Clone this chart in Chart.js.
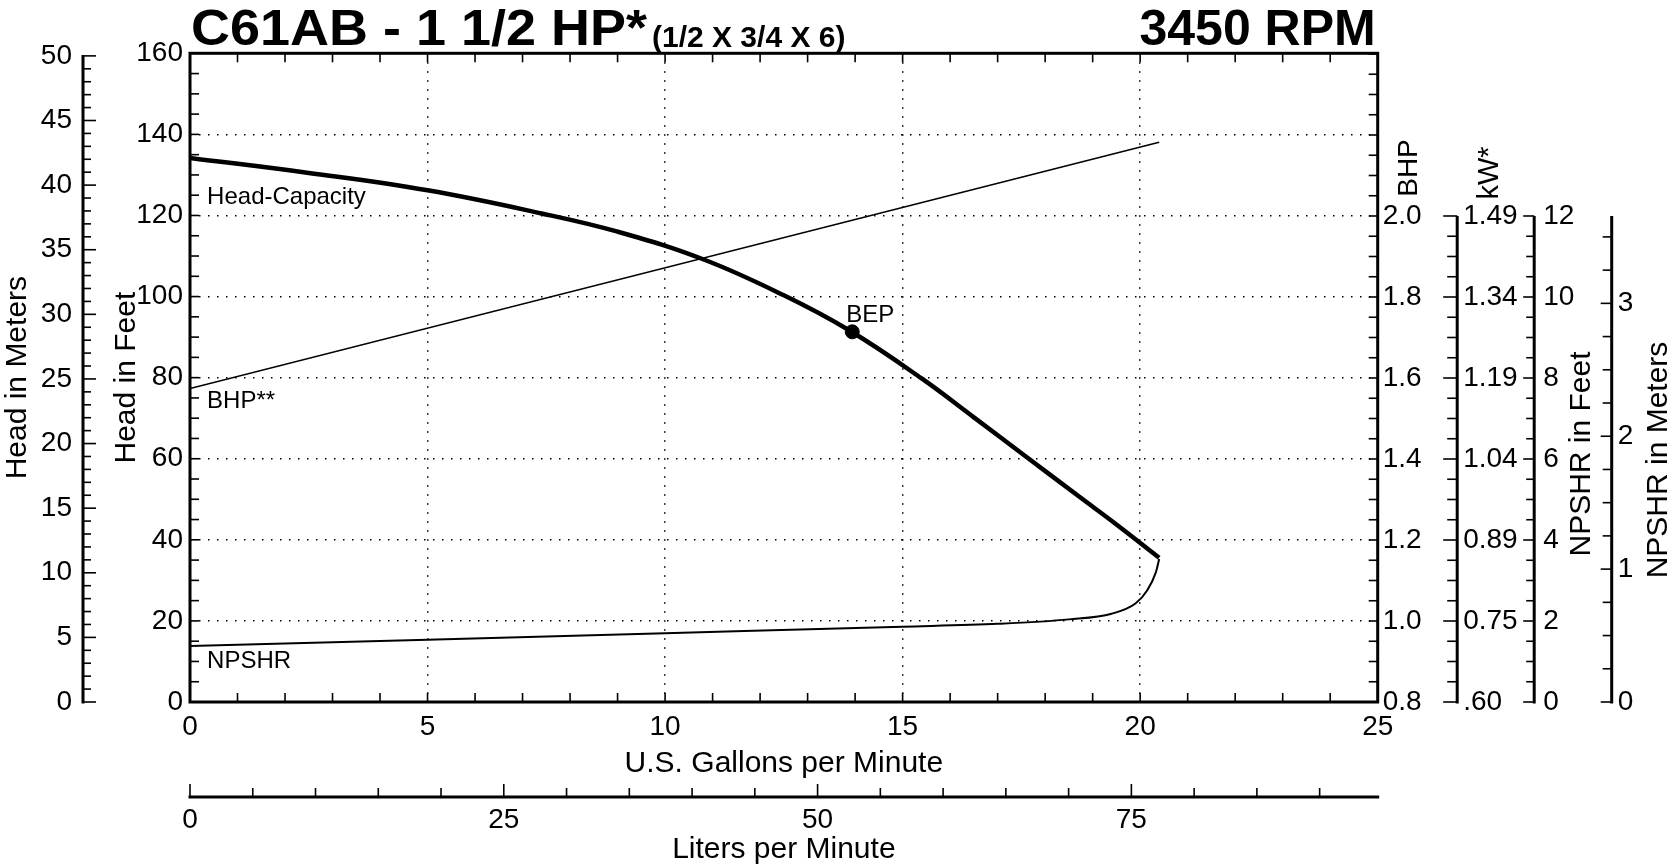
<!DOCTYPE html>
<html>
<head>
<meta charset="utf-8">
<title>C61AB - 1 1/2 HP pump curve</title>
<script src="https://cdn.jsdelivr.net/npm/chart.js@4.4.1/dist/chart.umd.min.js"></script>
<style>
  html, body { margin: 0; padding: 0; background: #fff; }
  #wrap { width: 1674px; height: 867px; position: relative; }
</style>
</head>
<body>
<div id="wrap"><canvas id="pumpCurve"></canvas></div>
<script>
// head-capacity curve (US GPM vs head in feet)
const headGpm = [0, 2.5, 5, 7.4, 9, 10.8, 12.5, 13.9, 15.4, 16.5, 17.6, 18.7, 19.5, 20.4];
const headFt  = [134.2, 130.5, 126.2, 120.5, 116, 109.2, 100.3, 91.5, 79.8, 70.2, 60.5, 50.8, 43.8, 35.6];

// brake horsepower (on the BHP axis)
const bhpGpm = [0, 20.4];
const bhpValues = [1.574, 2.182];

// NPSHR (on the NPSHR in Feet axis)
const npshrGpm = [0, 5, 10, 15, 17, 18.5, 19.4, 19.9, 20.15, 20.33, 20.4];
const npshrFt  = [1.38, 1.54, 1.70, 1.86, 1.93, 2.04, 2.18, 2.43, 2.76, 3.2, 3.53];

// best efficiency point
const bepGpm = [13.94];
const bepFt = [91.3];

// tick labels
const gpmTicks = [0, 5, 10, 15, 20, 25];
const litersTicks = [0, 25, 50, 75];
const feetTicks = [0, 20, 40, 60, 80, 100, 120, 140, 160];
const meterTicks = [0, 5, 10, 15, 20, 25, 30, 35, 40, 45, 50];
const bhpTicks = [0.8, 1.0, 1.2, 1.4, 1.6, 1.8, 2.0];
const kwTickLabels = ['.60', '0.75', '0.89', '1.04', '1.19', '1.34', '1.49'];
const npshrFtTicks = [0, 2, 4, 6, 8, 10, 12];
const npshrMTicks = [0, 1, 2, 3];

const FONT = "'Liberation Sans', Arial, Helvetica, sans-serif";
Chart.defaults.font.family = FONT;
Chart.defaults.color = '#000';

const tickFont = { family: FONT, size: 28 };
const titleFont = { family: FONT, size: 30, lineHeight: 1 };

// axis ranges (the right hand axes only use the lower part of the plot height)
const bhpMax = 2.4017;
const npshrFtMax = 16.017;
const FT_PER_M = 3.281;
const L_PER_GAL = 3.785;

function fixedTicks(list) {
    return scale => { scale.ticks = list.map(v => ({ value: v })); };
}
function fixWidth(w) {
    return scale => { scale.width = w; };
}
function fixHeight(h) {
    return scale => { scale.height = h; };
}
// dotted grid everywhere except on the frame
function gridColour(lo, hi) {
    return ctx => (ctx.tick && (ctx.tick.value === lo || ctx.tick.value === hi)) ? 'rgba(0,0,0,0)' : '#000';
}

const pts = (xs, ys) => xs.map((x, i) => ({ x: x, y: ys[i] }));

// ------------------------------------------ //
// Frame, inward ticks, partial axes, texts   //
// ------------------------------------------ //
const pumpAxesPlugin = {
    id: 'pumpAxes',
    afterDraw(chart) {
        const { ctx, chartArea: a, scales: s } = chart;
        const seg = (x1, y1, x2, y2) => {
            ctx.beginPath();
            ctx.moveTo(x1, y1);
            ctx.lineTo(x2, y2);
            ctx.stroke();
        };
        ctx.save();
        ctx.strokeStyle = '#000';
        ctx.fillStyle = '#000';

        // plot frame
        ctx.lineWidth = 3;
        ctx.strokeRect(a.left, a.top, a.right - a.left, a.bottom - a.top);

        // inward ticks on the frame
        ctx.lineWidth = 1.6;
        for (let g = 1; g < 25; g++) {
            const x = s.x.getPixelForValue(g);
            seg(x, a.bottom, x, a.bottom - 9);
            seg(x, a.top, x, a.top + 9);
        }
        for (let f = 5; f < 160; f += 5) {
            const y = s.y.getPixelForValue(f);
            seg(a.left, y, a.left + 9, y);
        }
        for (let k = 1; 0.8 + k * 0.05 < bhpMax; k++) {
            const y = s.bhp.getPixelForValue(0.8 + k * 0.05);
            seg(a.right, y, a.right - 9, y);
        }

        // head in meters axis
        const xm = s.yM.right;
        ctx.lineWidth = 3;
        seg(xm, s.yM.getPixelForValue(0) + 1.5, xm, s.yM.getPixelForValue(50) - 1);
        ctx.lineWidth = 1.6;
        for (let m = 0; m <= 50; m++) {
            const y = s.yM.getPixelForValue(m);
            seg(xm, y, xm + (m % 5 === 0 ? 13 : 8), y);
        }

        // kW axis (same positions as BHP from 0.8 to 2.0)
        const xk = s.kw.left;
        const yTop = s.bhp.getPixelForValue(2.0);
        ctx.lineWidth = 3;
        seg(xk, a.bottom + 1.5, xk, yTop);
        ctx.lineWidth = 1.6;
        for (let k = 0; k <= 24; k++) {
            const y = s.kw.getPixelForValue(0.8 + k * 0.05);
            seg(xk - (k % 4 === 0 ? 14 : 10), y, xk, y);
        }

        // NPSHR in feet axis
        const xf = s.npFt.left;
        ctx.lineWidth = 3;
        seg(xf, a.bottom + 1.5, xf, s.npFt.getPixelForValue(12));
        ctx.lineWidth = 1.6;
        for (let k = 0; k <= 24; k++) {
            const y = s.npFt.getPixelForValue(k * 0.5);
            seg(xf - (k % 4 === 0 ? 11 : 8), y, xf, y);
        }

        // NPSHR in meters axis
        const xn = s.npM.left;
        const nTop = s.npFt.getPixelForValue(12);
        ctx.lineWidth = 3;
        seg(xn, a.bottom + 1.5, xn, nTop);
        ctx.lineWidth = 1.6;
        for (let k = 0; s.npM.getPixelForValue(k * 0.25) >= nTop; k++) {
            const y = s.npM.getPixelForValue(k * 0.25);
            seg(xn - (k % 4 === 0 ? 11 : 9), y, xn, y);
        }

        // liters per minute axis
        const yl = s.xL.top;
        ctx.lineWidth = 3;
        seg(s.xL.getPixelForValue(0) - 1.5, yl, a.right + 1.5, yl);
        ctx.lineWidth = 1.6;
        for (let k = 0; k * 5 < 25 * L_PER_GAL; k++) {
            const x = s.xL.getPixelForValue(k * 5);
            seg(x, yl, x, yl - (k % 5 === 0 ? 13 : 9));
        }

        // rotated titles of the right axes
        const vText = (text, size, x, y) => {
            ctx.save();
            ctx.font = size + 'px ' + FONT;
            ctx.textAlign = 'center';
            ctx.textBaseline = 'alphabetic';
            ctx.translate(x, y);
            ctx.rotate(-Math.PI / 2);
            ctx.fillText(text, 0, 0);
            ctx.restore();
        };
        vText('BHP', 28, s.bhp.left + 39, yTop - 48);
        vText('kW*', 29, s.kw.left + 41, yTop - 43);
        const npMid = (s.npFt.getPixelForValue(0) + s.npFt.getPixelForValue(12)) / 2;
        vText('NPSHR in Feet', 30, s.npFt.left + 56, npMid - 5);
        vText('NPSHR in Meters', 30, s.npM.left + 55, npMid + 1);

        // curve labels
        ctx.font = '24px ' + FONT;
        ctx.textAlign = 'left';
        ctx.textBaseline = 'alphabetic';
        ctx.fillText('Head-Capacity', s.x.getPixelForValue(0.36), s.y.getPixelForValue(122.8));
        ctx.fillText('BHP**', s.x.getPixelForValue(0.36), s.y.getPixelForValue(72.5));
        ctx.fillText('NPSHR', s.x.getPixelForValue(0.36), s.y.getPixelForValue(8.3));
        ctx.fillText('BEP', s.x.getPixelForValue(bepGpm[0]) - 6, s.y.getPixelForValue(bepFt[0]) - 10);

        // chart title
        const mainTitle = 'C61AB - 1 1/2 HP*';
        ctx.font = 'bold 50px ' + FONT;
        const natural = ctx.measureText(mainTitle).width;
        ctx.save();
        ctx.translate(a.left + 1, 45);
        ctx.scale(456 / natural, 1);
        ctx.fillText(mainTitle, 0, 0);
        ctx.restore();
        ctx.font = 'bold 30px ' + FONT;
        ctx.fillText('(1/2 X 3/4 X 6)', a.left + 462, 47);
        ctx.font = 'bold 50px ' + FONT;
        ctx.textAlign = 'right';
        ctx.fillText('3450 RPM', a.right - 2, 45);

        ctx.restore();
    }
};

// ------------ //
// Create chart //
// ------------ //
const chart = new Chart(document.getElementById('pumpCurve').getContext('2d'), {
    type: 'scatter',
    data: {
        datasets: [{
            label: 'Head-Capacity',
            data: pts(headGpm, headFt),
            yAxisID: 'y',
            showLine: true,
            borderColor: '#000',
            borderWidth: 4.5,
            pointRadius: 0,
            tension: 0.4
        }, {
            label: 'BHP**',
            data: pts(bhpGpm, bhpValues),
            yAxisID: 'bhp',
            showLine: true,
            borderColor: '#000',
            borderWidth: 1.6,
            pointRadius: 0
        }, {
            label: 'NPSHR',
            data: pts(npshrGpm, npshrFt),
            yAxisID: 'npFt',
            showLine: true,
            borderColor: '#000',
            borderWidth: 2,
            pointRadius: 0,
            cubicInterpolationMode: 'monotone'
        }, {
            label: 'BEP',
            data: pts(bepGpm, bepFt),
            yAxisID: 'y',
            pointRadius: 7,
            pointBackgroundColor: '#000',
            pointBorderColor: '#000',
            clip: false
        }]
    },
    options: {
        responsive: true,
        maintainAspectRatio: false,
        animation: false,
        events: [],
        layout: { padding: { top: 53.3, left: 0, right: 0, bottom: 0 } },
        plugins: {
            legend: { display: false },
            tooltip: { enabled: false }
        },
        scales: {
            x: {
                type: 'linear', position: 'bottom', weight: 0,
                min: 0, max: 25,
                afterBuildTicks: fixedTicks(gpmTicks),
                afterFit: fixHeight(95),
                ticks: { font: tickFont, padding: 8, autoSkip: false, maxRotation: 0 },
                grid: { color: gridColour(0, 25), lineWidth: 1.5, drawTicks: false },
                border: { display: false, dash: [1.5, 7.5] },
                title: { display: true, text: 'U.S. Gallons per Minute', font: titleFont, padding: { top: 0, bottom: 18 } }
            },
            xL: {
                type: 'linear', position: 'bottom', weight: 1,
                min: 0, max: 25 * L_PER_GAL,
                afterBuildTicks: fixedTicks(litersTicks),
                afterFit: fixHeight(70),
                ticks: { font: tickFont, padding: 6, autoSkip: false, maxRotation: 0 },
                grid: { display: false, drawTicks: false },
                border: { display: false },
                title: { display: true, text: 'Liters per Minute', font: titleFont, padding: { top: 0, bottom: 2 } }
            },
            y: {
                type: 'linear', position: 'left', weight: 0,
                min: 0, max: 160,
                afterBuildTicks: fixedTicks(feetTicks),
                afterFit: fixWidth(107),
                ticks: { font: tickFont, padding: 7, autoSkip: false },
                grid: { color: gridColour(0, 160), lineWidth: 1.5, drawTicks: false },
                border: { display: false, dash: [1.5, 7.5] },
                title: { display: true, text: 'Head in Feet', font: titleFont, padding: { top: 28.5, bottom: 0 } }
            },
            yM: {
                type: 'linear', position: 'left', weight: 1,
                min: 0, max: 50.2,
                afterBuildTicks: fixedTicks(meterTicks),
                afterFit: fixWidth(83),
                ticks: { font: tickFont, padding: 11, autoSkip: false },
                grid: { display: false, drawTicks: false },
                border: { display: false },
                title: { display: true, text: 'Head in Meters', font: titleFont, padding: { top: 3, bottom: 0 } }
            },
            bhp: {
                type: 'linear', position: 'right', weight: 0,
                min: 0.8, max: bhpMax,
                afterBuildTicks: fixedTicks(bhpTicks),
                afterFit: fixWidth(79.5),
                ticks: { font: tickFont, padding: 5, autoSkip: false, callback: v => v.toFixed(1) },
                grid: { display: false, drawTicks: false },
                border: { display: false }
            },
            kw: {
                type: 'linear', position: 'right', weight: 1,
                min: 0.8, max: bhpMax,
                afterBuildTicks: fixedTicks(bhpTicks),
                afterFit: fixWidth(77),
                ticks: { font: tickFont, padding: 6, autoSkip: false, callback: (v, i) => kwTickLabels[i] },
                grid: { display: false, drawTicks: false },
                border: { display: false }
            },
            npFt: {
                type: 'linear', position: 'right', weight: 2,
                min: 0, max: npshrFtMax,
                afterBuildTicks: fixedTicks(npshrFtTicks),
                afterFit: fixWidth(77.5),
                ticks: { font: tickFont, padding: 9, autoSkip: false },
                grid: { display: false, drawTicks: false },
                border: { display: false }
            },
            npM: {
                type: 'linear', position: 'right', weight: 3,
                min: 0, max: npshrFtMax / FT_PER_M,
                afterBuildTicks: fixedTicks(npshrMTicks),
                afterFit: fixWidth(62.3),
                ticks: { font: tickFont, padding: 6, autoSkip: false },
                grid: { display: false, drawTicks: false },
                border: { display: false }
            }
        }
    },
    plugins: [pumpAxesPlugin]
});
</script>
</body>
</html>
